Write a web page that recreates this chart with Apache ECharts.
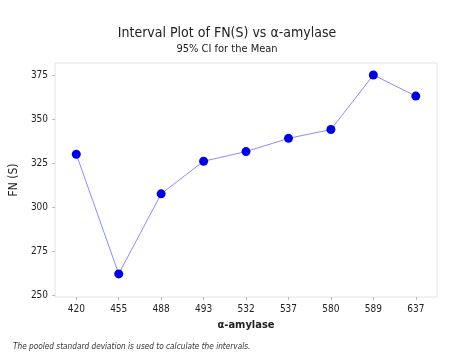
<!DOCTYPE html>
<html>
<head>
<meta charset="utf-8">
<script src="https://cdn.jsdelivr.net/npm/echarts@6/dist/echarts.min.js"></script>
<style>
html,body{margin:0;padding:0;background:#fff;}
#chart{width:454px;height:360px;}
</style>
</head>
<body>
<div id="chart"></div>
<script>
// α-amylase levels and mean FN(S)
var categories = ['420', '455', '488', '493', '532', '537', '580', '589', '637'];
var fnMeans = [330, 262, 307.5, 326, 331.5, 339, 344, 375, 363];
var yTicks = [250, 275, 300, 325, 350, 375];

var font = '"Liberation Sans Narrow","DejaVu Sans Condensed",sans-serif';
var myChart = echarts.init(document.getElementById('chart'));
var option = {
  animation: false,
  backgroundColor: '#fff',
  title: [{
    text: 'Interval Plot of FN(S) vs α-amylase',
    left: 'center', top: 21,
    textStyle: {fontFamily: font, fontSize: 14, fontWeight: 'normal', color: '#222'}
  }, {
    text: '95% CI for the Mean',
    left: 'center', top: 39,
    textStyle: {fontFamily: font, fontSize: 11, fontWeight: 'normal', color: '#222'}
  }],
  graphic: [{
    type: 'text', left: 13, top: 343,
    style: {text: 'The pooled standard deviation is used to calculate the intervals.',
      font: 'italic 8.2px ' + font, fill: '#333'}
  }],
  grid: {
    left: 53, right: 17, top: 63, bottom: 63,
    show: true, borderColor: '#e3e3e3', borderWidth: 1
  },
  xAxis: {
    type: 'category',
    data: categories,
    boundaryGap: true,
    name: 'α-amylase',
    nameLocation: 'middle',
    nameGap: 23,
    nameTextStyle: {fontFamily: font, fontSize: 11, color: '#222', fontWeight: 'bold'},
    axisLine: {show: false},
    axisTick: {show: true, alignWithLabel: true, length: 3, lineStyle: {color: '#bbb'}},
    axisLabel: {fontFamily: font, fontSize: 10, color: '#222', margin: 7}
  },
  yAxis: {
    type: 'value',
    min: 248.9,
    max: 381.8,
    name: 'FN (S)',
    nameLocation: 'middle',
    nameRotate: 90,
    nameGap: 33,
    nameTextStyle: {fontFamily: font, fontSize: 12, color: '#222'},
    axisLine: {show: false},
    splitLine: {show: false},
    axisTick: {show: true, length: 3, customValues: yTicks, lineStyle: {color: '#bbb'}},
    axisLabel: {fontFamily: font, fontSize: 10, color: '#222', margin: 7, customValues: yTicks}
  },
  series: [{
    type: 'line',
    data: fnMeans,
    symbol: 'circle',
    symbolSize: 9,
    lineStyle: {color: '#8c8cff', width: 1},
    itemStyle: {color: '#0000e0'}
  }]
};
myChart.setOption(option);
</script>
</body>
</html>
